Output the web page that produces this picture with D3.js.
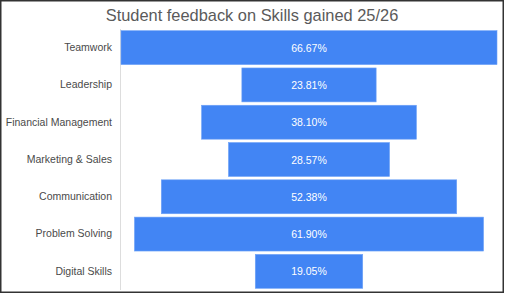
<!DOCTYPE html>
<html><head><meta charset="utf-8">
<script src="https://cdn.jsdelivr.net/npm/d3@7"></script>
<style>body{margin:0;background:#fff}svg{display:block}</style>
</head><body>
<script>
const title = "Student feedback on Skills gained 25/26";
const categories = ["Teamwork","Leadership","Financial Management","Marketing & Sales","Communication","Problem Solving","Digital Skills"];
const values = [66.67, 23.81, 38.10, 28.57, 52.38, 61.90, 19.05];

const W = 505, H = 294;
const svg = d3.select("body").append("svg").attr("width", W).attr("height", H);
svg.append("rect").attr("x",0.75).attr("y",0.75).attr("width",W-2.5).attr("height",H-2.5)
  .attr("fill","#fff").attr("stroke","#333").attr("stroke-width",1.5);

const left = 121, right = 497, cx = (left+right)/2;
const x = d3.scaleLinear().domain([0, d3.max(values)]).range([0, right-left]);
const y = d3.scaleBand().domain(categories).range([29, 290]).paddingInner(0.09).paddingOuter(0.045);

svg.append("text").attr("x", 252).attr("y", 20.5).attr("text-anchor","middle")
  .attr("font-family","Liberation Sans, Arial, sans-serif").attr("font-size",16.4)
  .attr("fill","#5a5a5a").text(title);

svg.append("line").attr("x1",120.5).attr("x2",120.5).attr("y1",29).attr("y2",290)
  .attr("stroke","#ddd").attr("stroke-width",1);

const g = svg.append("g");
g.selectAll("rect.bar").data(categories).join("rect").attr("class","bar")
  .attr("x", (d,i) => cx - x(values[i])/2)
  .attr("y", d => y(d))
  .attr("width", (d,i) => x(values[i]))
  .attr("height", y.bandwidth())
  .attr("fill","#4285f4").attr("stroke","#6fa2f7").attr("stroke-width",0.6);

g.selectAll("text.val").data(categories).join("text").attr("class","val")
  .attr("x", cx).attr("y", d => y(d)+y.bandwidth()/2+4)
  .attr("text-anchor","middle").attr("font-family","Liberation Sans, Arial, sans-serif")
  .attr("font-size",10.5).attr("fill","#fff")
  .text((d,i) => values[i].toFixed(2) + "%");

const yAxis = d3.axisLeft(y).tickSize(0).tickPadding(8);
const ag = svg.append("g").attr("transform","translate(120,0)").call(yAxis);
ag.select(".domain").remove();
ag.selectAll("text").attr("font-family","Liberation Sans, Arial, sans-serif")
  .attr("font-size",10.5).attr("fill","#4a4a4a");
</script>
</body></html>
